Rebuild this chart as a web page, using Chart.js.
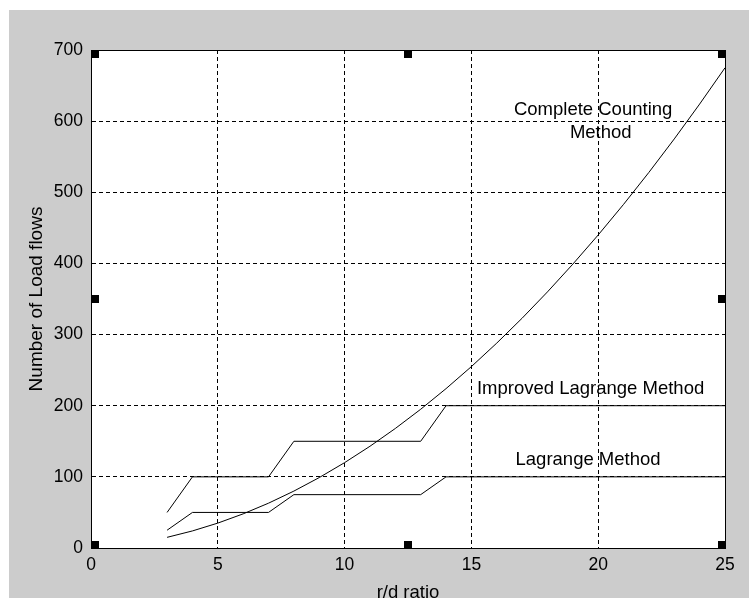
<!DOCTYPE html>
<html>
<head>
<meta charset="utf-8">
<script src="https://cdn.jsdelivr.net/npm/chart.js@4.4.1/dist/chart.umd.min.js"></script>
<style>
  html, body { margin: 0; padding: 0; background: #fff; }
  #wrap { width: 749px; height: 598px; }
</style>
</head>
<body>
<div id="wrap"><canvas id="chart" width="749" height="598"></canvas></div>
<script>
// r/d ratio vs number of load flows
const ratioValues = [3, 4, 5, 6, 7, 8, 9, 10, 11, 12, 13, 14, 15, 16, 17, 18, 19, 20, 21, 22, 23, 24, 25];
const completeCounting = [15, 24, 35, 48, 63, 80, 99, 120, 143, 168, 195, 224, 255, 288, 323, 360, 399, 440, 483, 528, 575, 624, 675];

const stepRatios = [3, 4, 7, 8, 13, 14, 25];
const lagrange = [25, 50, 50, 75, 75, 100, 100];
const improvedLagrange = [50, 100, 100, 150, 150, 200, 200];

const xTicks = [0, 5, 10, 15, 20, 25];
const yTicks = [0, 100, 200, 300, 400, 500, 600, 700];

// text labels placed in data units
const noteTexts = ['Complete Counting', 'Method', 'Improved Lagrange Method', 'Lagrange Method'];
const noteX = [19.8, 20.1, 19.7, 19.6];
const noteY = [616, 583, 223, 124];

const FONT = '"Liberation Sans", Arial, sans-serif';

function toPoints(xs, ys) {
    return xs.map((x, i) => ({ x: x, y: ys[i] }));
}

const figurePlugin = {
    id: 'figure',
    beforeDraw(chart) {
        const c = chart.ctx;
        const a = chart.chartArea;
        c.save();
        c.fillStyle = '#ffffff';
        c.fillRect(0, 0, chart.width, chart.height);
        c.fillStyle = '#cccccc';
        c.fillRect(9, 10, chart.width - 9, chart.height - 10);
        c.fillStyle = '#ffffff';
        c.fillRect(a.left, a.top, a.right - a.left, a.bottom - a.top);
        c.restore();
    },
    afterDraw(chart) {
        const c = chart.ctx;
        const a = chart.chartArea;
        const xs = chart.scales.x, ys = chart.scales.y;
        c.save();
        c.strokeStyle = '#000';
        c.lineWidth = 1;
        c.strokeRect(a.left + 0.5, a.top + 0.5, a.right - a.left, a.bottom - a.top);

        // selection handles
        const s = 8;
        const midX = Math.round((a.left + a.right) / 2), midY = Math.round((a.top + a.bottom) / 2);
        c.fillStyle = '#000';
        c.fillRect(a.left, a.top, s, s);
        c.fillRect(midX - s / 2, a.top, s, s);
        c.fillRect(a.right - s + 1, a.top, s, s);
        c.fillRect(a.left, midY - s / 2, s, s);
        c.fillRect(a.right - s + 1, midY - s / 2, s, s);
        c.fillRect(a.left, a.bottom - s + 1, s, s);
        c.fillRect(midX - s / 2, a.bottom - s + 1, s, s);
        c.fillRect(a.right - s + 1, a.bottom - s + 1, s, s);

        c.font = '18.5px ' + FONT;
        c.textAlign = 'center';
        c.textBaseline = 'middle';
        noteTexts.forEach((t, i) => {
            c.fillText(t, xs.getPixelForValue(noteX[i]), ys.getPixelForValue(noteY[i]));
        });
        c.restore();
    }
};

const lineStyle = {
    borderColor: '#000',
    borderWidth: 1,
    pointRadius: 0,
    showLine: true,
    fill: false,
    tension: 0
};

new Chart(document.getElementById('chart'), {
    type: 'scatter',
    data: {
        datasets: [
            Object.assign({ label: 'Complete Counting Method', data: toPoints(ratioValues, completeCounting) }, lineStyle),
            Object.assign({ label: 'Improved Lagrange Method', data: toPoints(stepRatios, improvedLagrange) }, lineStyle),
            Object.assign({ label: 'Lagrange Method', data: toPoints(stepRatios, lagrange) }, lineStyle)
        ]
    },
    options: {
        responsive: false,
        animation: false,
        layout: { padding: { left: 0, top: 50, right: 24, bottom: 0 } },
        plugins: { legend: { display: false }, tooltip: { enabled: false } },
        scales: {
            x: {
                type: 'linear',
                min: 0,
                max: 25,
                afterBuildTicks: (scale) => { scale.ticks = xTicks.map(v => ({ value: v })); },
                afterFit: (scale) => { scale.height = 50; },
                ticks: { color: '#000', padding: 7, font: { family: FONT, size: 17.5 }, maxRotation: 0 },
                grid: { color: '#000', lineWidth: 1, drawTicks: false },
                border: { display: true, color: '#000', width: 1, dash: [4, 3] },
                title: {
                    display: true,
                    text: 'r/d ratio',
                    color: '#000',
                    font: { family: FONT, size: 18.5 },
                    padding: { top: 0, bottom: -6 }
                }
            },
            y: {
                min: 0,
                max: 700,
                afterBuildTicks: (scale) => { scale.ticks = yTicks.map(v => ({ value: v })); },
                afterFit: (scale) => { scale.width = 91; },
                ticks: { color: '#000', padding: 8, font: { family: FONT, size: 17.5 } },
                grid: { color: '#000', lineWidth: 1, drawTicks: false },
                border: { display: true, color: '#000', width: 1, dash: [4, 3] },
                title: {
                    display: true,
                    text: 'Number of Load flows',
                    color: '#000',
                    font: { family: FONT, size: 19 },
                    padding: { top: 25, bottom: 0 }
                }
            }
        }
    },
    plugins: [figurePlugin]
});
</script>
</body>
</html>
